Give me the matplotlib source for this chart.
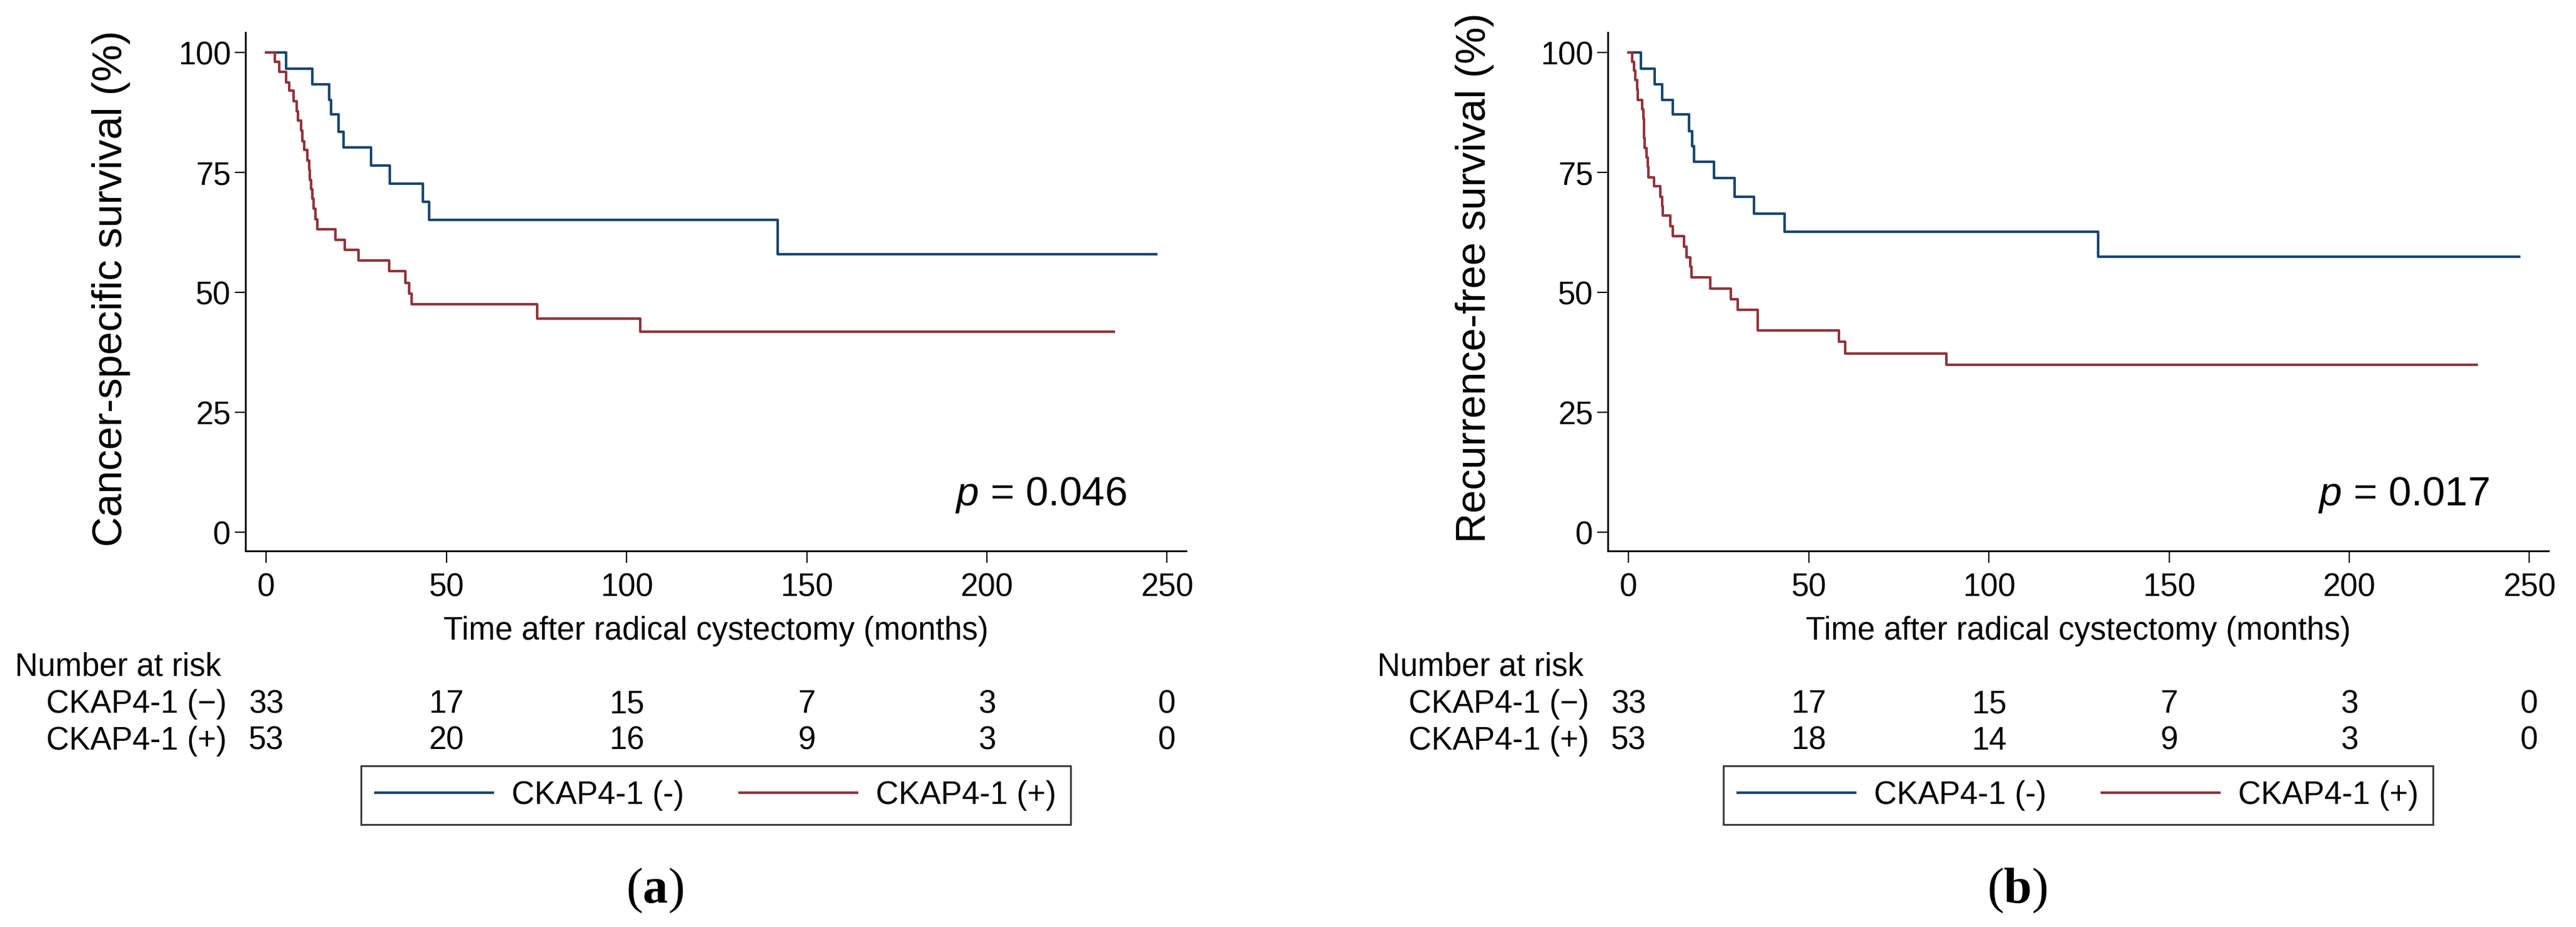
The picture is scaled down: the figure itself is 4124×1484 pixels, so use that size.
import matplotlib
matplotlib.use("Agg")
import matplotlib.pyplot as plt
import matplotlib.transforms as mtransforms
from matplotlib.lines import Line2D

# Kaplan-Meier curves (months, survival %)
css_neg_t = [0, 5.4, 12.7, 17.5, 18.0, 20.1, 21.5, 29.1, 34.2, 43.5, 45.2, 141.9, 246.9]
css_neg_s = [100, 96.6, 93.4, 90.1, 87.1, 83.5, 80.2, 76.4, 72.7, 68.9, 65.1, 58.0, 58.0]
css_pos_t = [0, 2.4, 3.5, 5.4, 6.3, 7.6, 8.5, 8.7, 9.7, 9.9, 10.5, 11.4, 11.9, 12.1, 12.4,
             12.7, 13.1, 13.6, 14.1, 19.2, 21.8, 25.5, 34.0, 38.5, 39.7, 40.3, 75.2, 103.8, 235.2]
css_pos_s = [100, 98.1, 96.0, 93.8, 92.1, 89.9, 87.8, 85.8, 83.7, 81.6, 79.7, 77.5, 75.5, 73.5, 71.5,
             69.5, 67.5, 65.3, 63.2, 61.0, 58.9, 56.6, 54.4, 52.0, 49.7, 47.5, 44.6, 41.8, 41.8]

rfs_neg_t = [0, 3.4, 7.2, 9.3, 12.2, 16.7, 17.6, 18.1, 23.6, 29.4, 34.8, 43.3, 130.3, 247.1]
rfs_neg_s = [100, 96.6, 93.4, 90.1, 87.1, 83.6, 80.5, 77.3, 73.8, 70.0, 66.4, 62.7, 57.4, 57.4]
rfs_pos_t = [0, 0.9, 1.4, 1.9, 2.3, 2.6, 3.8, 4.0, 4.2, 4.3, 4.4, 4.9, 5.3, 5.5, 7.1, 8.7, 9.2, 9.4,
             11.6, 12.2, 15.4, 16.1, 17.1, 17.5, 22.7, 28.3, 30.3, 35.8, 58.4, 60.0, 88.1, 235.3]
rfs_pos_s = [100, 98.1, 96.2, 94.3, 92.4, 90.1, 88.2, 86.2, 84.3, 82.2, 80.1, 78.2, 76.2, 74.0, 72.1,
             70.0, 68.0, 66.0, 63.8, 61.7, 59.5, 57.3, 55.3, 53.1, 50.8, 48.6, 46.4, 42.1, 39.7,
             37.2, 34.9, 34.9]

risk_times = [0, 50, 100, 150, 200, 250]
css_risk_neg = [33, 17, 15, 7, 3, 0]
css_risk_pos = [53, 20, 16, 9, 3, 0]
rfs_risk_neg = [33, 17, 15, 7, 3, 0]
rfs_risk_pos = [53, 18, 14, 9, 3, 0]

y_ticks = [0, 25, 50, 75, 100]
group_labels = ["CKAP4-1 (-)", "CKAP4-1 (+)"]
risk_labels = ["CKAP4-1 (\u2212)", "CKAP4-1 (+)"]

NAVY = "#1a476f"
MAROON = "#90353b"

plt.rcParams["font.family"] = ["Liberation Sans", "DejaVu Sans"]
plt.rcParams["mathtext.fontset"] = "custom"
plt.rcParams["mathtext.it"] = "Liberation Sans:italic"
plt.rcParams["mathtext.bf"] = "Liberation Serif:bold"
plt.rcParams["mathtext.rm"] = "Liberation Serif"

W, H = 4124, 1484
fig = plt.figure(figsize=(W / 100, H / 100), dpi=100)
FS = 36.5


def fx(px): return px / W
def fy(py): return 1 - py / H


def panel(left_px, neg, pos, risk_neg, risk_pos, ylab, ylab_xy, ptxt, tag):
    ax = fig.add_axes([fx(left_px), fy(882), fx(1506), (882 - 52) / H])
    ax.step(neg[0], neg[1], where="post", color=NAVY, lw=2.9)
    ax.step(pos[0], pos[1], where="post", color=MAROON, lw=2.9)
    ax.set_xlim(-5.8, 255.3)
    ax.set_ylim(-3.9, 104.2)
    ax.set_xticks(risk_times)
    ax.set_yticks(y_ticks)
    for s in ["top", "right"]:
        ax.spines[s].set_visible(False)
    for s in ["left", "bottom"]:
        ax.spines[s].set_linewidth(2.0)
    ax.tick_params(axis="x", length=14, width=1.5, pad=11, labelsize=FS)
    ax.tick_params(axis="y", length=12, width=1.5, pad=5, labelsize=FS)

    cx = left_px + 753
    fig.text(fx(ylab_xy[0]), fy(ylab_xy[1]), ylab, rotation=90, ha="center", va="center", fontsize=48)
    fig.text(fx(cx), fy(1024), "Time after radical cystectomy (months)", ha="center",
             va="baseline", fontsize=FS)
    ax.text(238.8, 5.6, r"$\mathit{p}$ = " + ptxt, ha="right", va="baseline", fontsize=47)

    # number at risk table
    zero_px = left_px + 5.8 * 1506 / 261.1
    trans = mtransforms.blended_transform_factory(ax.transData, fig.transFigure)
    fig.text(fx(zero_px - 402), fy(1082), "Number at risk", ha="left", va="baseline", fontsize=FS)
    for row, (lab, vals) in enumerate(zip(risk_labels, [risk_neg, risk_pos])):
        yb = fy(1141 + row * 59)
        fig.text(fx(zero_px - 352), yb, lab, ha="left", va="baseline", fontsize=FS)
        for t, v in zip(risk_times, vals):
            ax.text(t, yb, str(v), transform=trans, ha="center", va="baseline", fontsize=FS)

    handles = [Line2D([], [], color=NAVY, lw=2.9), Line2D([], [], color=MAROON, lw=2.9)]
    leg = fig.legend(handles, group_labels, loc="center", bbox_to_anchor=(fx(cx), fy(1273)),
                     ncol=2, fontsize=FS, frameon=True, fancybox=False, handlelength=3.7,
                     handletextpad=0.6, columnspacing=1.75, borderpad=0.45)
    leg.get_frame().set_edgecolor("black")
    leg.get_frame().set_linewidth(2.0)

    fig.text(fx(left_px + 655), fy(1445), "(" + r"$\mathbf{" + tag + "}$" + ")",
             ha="center", va="baseline", fontsize=58, family="Liberation Serif")
    return ax


panel(393, (css_neg_t, css_neg_s), (css_pos_t, css_pos_s), css_risk_neg, css_risk_pos,
      "Cancer-specific survival (%)", (178, 462), "0.046", "a")
panel(2574, (rfs_neg_t, rfs_neg_s), (rfs_pos_t, rfs_pos_s), rfs_risk_neg, rfs_risk_pos,
      "Recurrence-free survival (%)", (2361, 445), "0.017", "b")

fig.savefig("out.png", dpi=100, facecolor="white")
